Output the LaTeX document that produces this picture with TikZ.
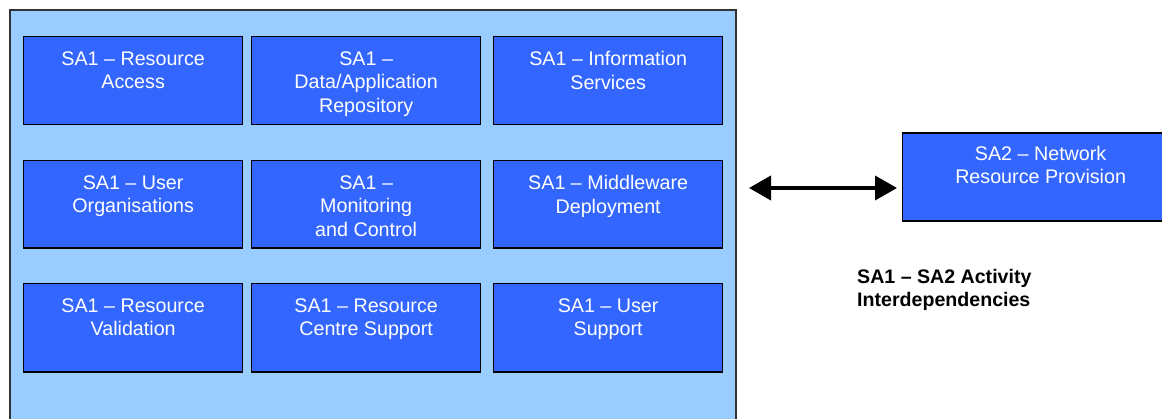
\documentclass[tikz,border=0pt]{standalone}
\usepackage{fontspec}
\setmainfont{Liberation Sans}
\usetikzlibrary{arrows.meta}
\definecolor{outerblue}{HTML}{99CCFF}
\definecolor{boxblue}{HTML}{3366FF}
\tikzset{
  sabox/.style={draw=black, line width=1.3pt, fill=boxblue, inner sep=0pt, anchor=north west},
  satext/.style={anchor=north, inner sep=0pt, align=center, text=white,
    font=\fontsize{19.7}{23.4}\selectfont},
  outerbox/.style={draw=black!80, line width=1.6pt, fill=outerblue, inner sep=0pt, anchor=north west},
  biarrow/.style={line width=3.8pt, {Triangle[length=22pt,width=24pt]}-{Triangle[length=22pt,width=24pt]}},
  caption/.style={anchor=north west, inner sep=0pt, align=left,
    font=\fontsize{19.6}{23.5}\selectfont\bfseries}
}
\begin{document}
\begin{tikzpicture}[x=1pt, y=-1pt]
\useasboundingbox (0,0) rectangle (1162,419);
\clip (0,0) rectangle (1162,419);
\node[outerbox, minimum width=726pt, minimum height=450pt] (outer) at (9,9) {};
% row 1
\node[sabox, minimum width=219pt, minimum height=88pt] (b11) at (23,36) {};
\node[sabox, minimum width=229pt, minimum height=88pt] (b12) at (251,36) {};
\node[sabox, minimum width=229pt, minimum height=88pt] (b13) at (493,36) {};
% row 2
\node[sabox, minimum width=219pt, minimum height=87.5pt] (b21) at (23,160) {};
\node[sabox, minimum width=229pt, minimum height=87.5pt] (b22) at (251,160) {};
\node[sabox, minimum width=229pt, minimum height=87.5pt] (b23) at (493,160) {};
% row 3
\node[sabox, minimum width=219pt, minimum height=88.5pt] (b31) at (23,283) {};
\node[sabox, minimum width=229pt, minimum height=88.5pt] (b32) at (251,283) {};
\node[sabox, minimum width=229pt, minimum height=88.5pt] (b33) at (493,283) {};
% texts
\node[satext] (t11) at ([yshift=-15.5pt]b11.north) {SA1 – Resource\\Access};
\node[satext] (t12) at ([yshift=-15.5pt]b12.north) {SA1 –\\Data/Application\\Repository};
\node[satext] (t13) at ([yshift=-15.5pt]b13.north) {SA1 – Information\\Services};
\node[satext] (t21) at ([yshift=-15.5pt]b21.north) {SA1 – User\\Organisations};
\node[satext] (t22) at ([yshift=-15.5pt]b22.north) {SA1 –\\Monitoring\\and Control};
\node[satext] (t23) at ([yshift=-15.5pt]b23.north) {SA1 – Middleware\\Deployment};
\node[satext] (t31) at ([yshift=-15.5pt]b31.north) {SA1 – Resource\\Validation};
\node[satext] (t32) at ([yshift=-15.5pt]b32.north) {SA1 – Resource\\Centre Support};
\node[satext] (t33) at ([yshift=-15.5pt]b33.north) {SA1 – User\\Support};
% SA2
\node[sabox, minimum width=276pt, minimum height=88pt] (sa2) at (902,132.3) {};
\node[satext] (tsa2) at ([yshift=-13.5pt]sa2.north) {SA2 – Network\\Resource Provision};
% arrow
\coordinate (al) at (749,188);
\coordinate (ar) at (897,188);
\draw[biarrow] (al) -- (ar);
% caption
\node[caption] (cap) at (857,269) {SA1 – SA2 Activity\\Interdependencies};
\end{tikzpicture}
\end{document}
